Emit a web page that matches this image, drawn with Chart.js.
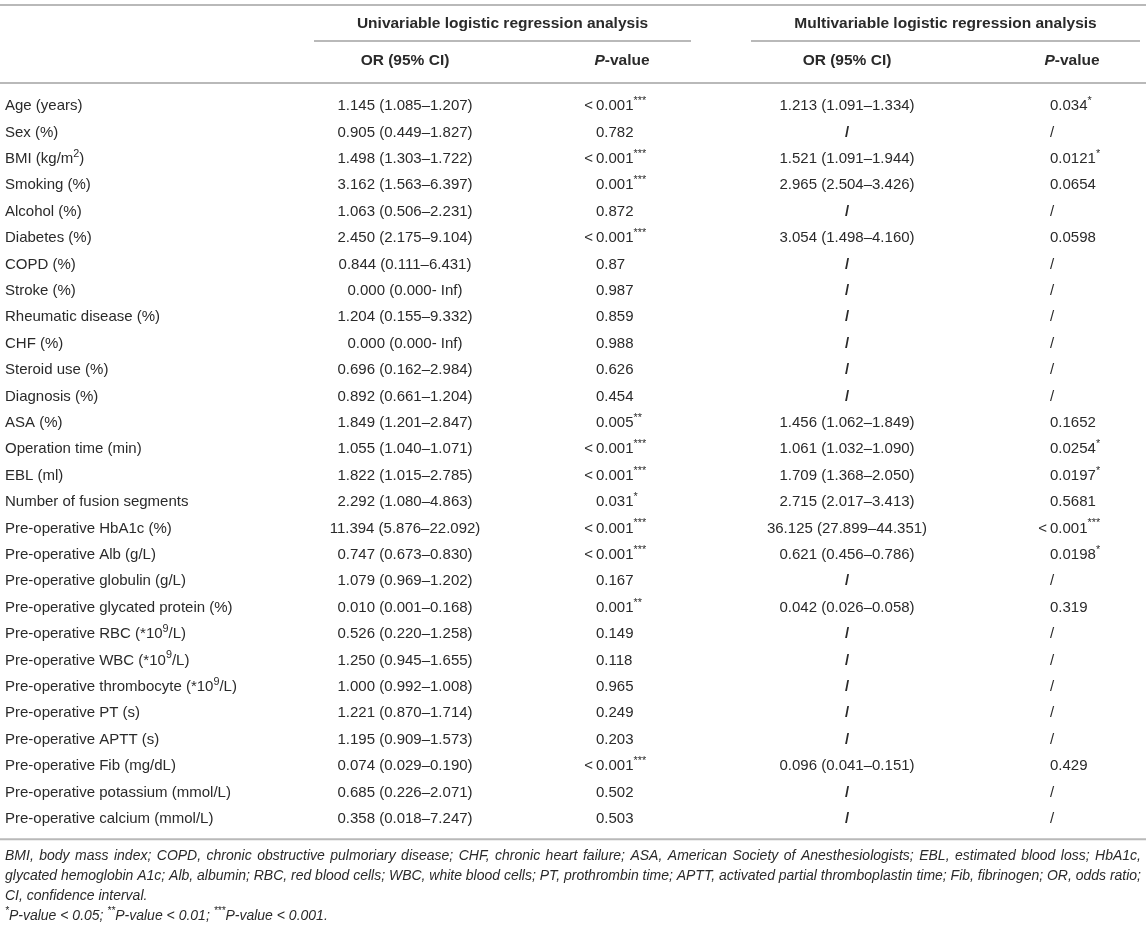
<!DOCTYPE html>
<html>
<head>
<meta charset="utf-8">
<script src="https://cdn.jsdelivr.net/npm/chart.js@4.4.1/dist/chart.umd.min.js"></script>
<style>
  html, body { margin: 0; padding: 0; background: #fff; }
  canvas { display: block; }
</style>
</head>
<body>
<canvas id="tabela" width="1146" height="928"></canvas>
<script>
// {..} = superscrito, [..] = itálico
var variables = [
  "Age (years)", "Sex (%)", "BMI (kg/m{2})", "Smoking (%)", "Alcohol (%)", "Diabetes (%)",
  "COPD (%)", "Stroke (%)", "Rheumatic disease (%)", "CHF (%)", "Steroid use (%)",
  "Diagnosis (%)", "ASA (%)", "Operation time (min)", "EBL (ml)", "Number of fusion segments",
  "Pre-operative HbA1c (%)", "Pre-operative Alb (g/L)", "Pre-operative globulin (g/L)",
  "Pre-operative glycated protein (%)", "Pre-operative RBC (*10{9}/L)", "Pre-operative WBC (*10{9}/L)",
  "Pre-operative thrombocyte (*10{9}/L)", "Pre-operative PT (s)", "Pre-operative APTT (s)",
  "Pre-operative Fib (mg/dL)", "Pre-operative potassium (mmol/L)", "Pre-operative calcium (mmol/L)"
];
var uniOR = [
  "1.145 (1.085–1.207)", "0.905 (0.449–1.827)", "1.498 (1.303–1.722)", "3.162 (1.563–6.397)",
  "1.063 (0.506–2.231)", "2.450 (2.175–9.104)", "0.844 (0.111–6.431)", "0.000 (0.000- Inf)",
  "1.204 (0.155–9.332)", "0.000 (0.000- Inf)", "0.696 (0.162–2.984)", "0.892 (0.661–1.204)",
  "1.849 (1.201–2.847)", "1.055 (1.040–1.071)", "1.822 (1.015–2.785)", "2.292 (1.080–4.863)",
  "11.394 (5.876–22.092)", "0.747 (0.673–0.830)", "1.079 (0.969–1.202)", "0.010 (0.001–0.168)",
  "0.526 (0.220–1.258)", "1.250 (0.945–1.655)", "1.000 (0.992–1.008)", "1.221 (0.870–1.714)",
  "1.195 (0.909–1.573)", "0.074 (0.029–0.190)", "0.685 (0.226–2.071)", "0.358 (0.018–7.247)"
];
var uniP = [
  "<\u20090.001{***}", "0.782", "<\u20090.001{***}", "0.001{***}", "0.872", "<\u20090.001{***}",
  "0.87", "0.987", "0.859", "0.988", "0.626", "0.454", "0.005{**}", "<\u20090.001{***}",
  "<\u20090.001{***}", "0.031{*}", "<\u20090.001{***}", "<\u20090.001{***}", "0.167", "0.001{**}",
  "0.149", "0.118", "0.965", "0.249", "0.203", "<\u20090.001{***}", "0.502", "0.503"
];
var multiOR = [
  "1.213 (1.091–1.334)", "/", "1.521 (1.091–1.944)", "2.965 (2.504–3.426)", "/",
  "3.054 (1.498–4.160)", "/", "/", "/", "/", "/", "/", "1.456 (1.062–1.849)",
  "1.061 (1.032–1.090)", "1.709 (1.368–2.050)", "2.715 (2.017–3.413)", "36.125 (27.899–44.351)",
  "0.621 (0.456–0.786)", "/", "0.042 (0.026–0.058)", "/", "/", "/", "/", "/",
  "0.096 (0.041–0.151)", "/", "/"
];
var multiP = [
  "0.034{*}", "/", "0.0121{*}", "0.0654", "/", "0.0598", "/", "/", "/", "/", "/", "/",
  "0.1652", "0.0254{*}", "0.0197{*}", "0.5681", "<\u20090.001{***}", "0.0198{*}", "/", "0.319",
  "/", "/", "/", "/", "/", "0.429", "/", "/"
];
var groupTitles = ["Univariable logistic regression analysis", "Multivariable logistic regression analysis"];
var columnTitles = ["OR (95% CI)", "[P]-value", "OR (95% CI)", "[P]-value"];
var footnotes = [
  "BMI, body mass index; COPD, chronic obstructive pulmoriary disease; CHF, chronic heart failure; ASA, American Society of Anesthesiologists; EBL, estimated blood loss; HbA1c,",
  "glycated hemoglobin A1c; Alb, albumin; RBC, red blood cells; WBC, white blood cells; PT, prothrombin time; APTT, activated partial thromboplastin time; Fib, fibrinogen; OR, odds ratio;",
  "CI, confidence interval.",
  "{*}P-value < 0.05; {**}P-value < 0.01; {***}P-value < 0.001."
];

// posições em unidades das escalas (x em px, y em linhas)
var ROW0 = 106, PITCH = 26.4;
var layout = {
  colVar: 5, colUniOR: 405, colUniP: 596, colMultiOR: 847, colMultiP: 1050,
  headUniP: 622, headMultiP: 1072, footRight: 1141,
  groupUni: [314, 691], groupMulti: [751, 1140],
  topRule: -3.83, groupTitle: -3.11, groupRule: -2.46, colTitle: -1.70, headRule: -0.87,
  bottomRule: 27.77, foot: [28.41, 29.17, 29.92, 30.68]
};
var FONT = '"Liberation Sans", Arial, Helvetica, sans-serif';
var TEXT = '#2a2a2a', RULE = '#b9b9b9';
var BODY = 15, HEAD = 15.5, FOOT = 14;

function parse(str) {
  var segs = [], re = /\{([^}]*)\}|\[([^\]]*)\]|([^{\[]+)/g, m;
  while ((m = re.exec(str))) {
    if (m[1] !== undefined) segs.push({ t: m[1], sup: true });
    else if (m[2] !== undefined) segs.push({ t: m[2], it: true });
    else segs.push({ t: m[3] });
  }
  return segs;
}

function drawRich(ctx, str, x, y, align, o) {
  var size = o.size || BODY, segs = parse(str), total = 0;
  segs.forEach(function(s) {
    var sz = s.sup ? size * 0.72 : size;
    s.font = ((o.italic || s.it) ? 'italic ' : '') + (o.bold ? 'bold ' : '') + sz + 'px ' + FONT;
    ctx.font = s.font;
    s.w = ctx.measureText(s.t).width;
    total += s.w;
  });
  var cx = align === 'center' ? x - total / 2 : (align === 'right' ? x - total : x);
  ctx.fillStyle = o.color || TEXT;
  ctx.textAlign = 'left';
  ctx.textBaseline = 'middle';
  segs.forEach(function(s) {
    ctx.font = s.font;
    ctx.fillText(s.t, cx, s.sup ? y - size * 0.33 : y);
    cx += s.w;
  });
}

// linha de nota justificada entre x0 e x1
function drawJustified(ctx, str, x0, x1, y, size) {
  ctx.font = 'italic ' + size + 'px ' + FONT;
  ctx.fillStyle = TEXT;
  ctx.textAlign = 'left';
  ctx.textBaseline = 'middle';
  var words = str.split(' '), widths = words.map(function(w) { return ctx.measureText(w).width; });
  var sum = widths.reduce(function(a, b) { return a + b; }, 0);
  var gap = (x1 - x0 - sum) / (words.length - 1), cx = x0;
  words.forEach(function(w, i) { ctx.fillText(w, cx, y); cx += widths[i] + gap; });
}

// valores P alinhados pelo "0", com "<" saliente à esquerda
function drawP(ctx, str, x, y) {
  var shift = 0;
  if (str.charAt(0) === '<') {
    ctx.font = BODY + 'px ' + FONT;
    shift = ctx.measureText('<\u2009').width;
  }
  drawRich(ctx, str, x - shift, y, 'left', {});
}

var tablePlugin = {
  id: 'tabela',
  afterDraw: function(chart) {
    var ctx = chart.ctx, X = chart.scales.x, Y = chart.scales.y;
    function px(v) { return X.getPixelForValue(v); }
    function py(v) { return Y.getPixelForValue(v); }
    function rule(x0, x1, yv) {
      ctx.save();
      ctx.strokeStyle = RULE; ctx.lineWidth = 2;
      ctx.beginPath(); ctx.moveTo(px(x0), py(yv)); ctx.lineTo(px(x1), py(yv)); ctx.stroke();
      ctx.restore();
    }
    ctx.save();
    rule(0, 1146, layout.topRule);
    rule(layout.groupUni[0], layout.groupUni[1], layout.groupRule);
    rule(layout.groupMulti[0], layout.groupMulti[1], layout.groupRule);
    rule(0, 1146, layout.headRule);
    rule(0, 1146, layout.bottomRule);

    drawRich(ctx, groupTitles[0], px((layout.groupUni[0] + layout.groupUni[1]) / 2), py(layout.groupTitle), 'center', { bold: true, size: HEAD });
    drawRich(ctx, groupTitles[1], px((layout.groupMulti[0] + layout.groupMulti[1]) / 2), py(layout.groupTitle), 'center', { bold: true, size: HEAD });
    var colX = [layout.colUniOR, layout.headUniP, layout.colMultiOR, layout.headMultiP];
    columnTitles.forEach(function(t, i) {
      drawRich(ctx, t, px(colX[i]), py(layout.colTitle), 'center', { bold: true, size: HEAD });
    });

    variables.forEach(function(v, i) {
      var y = py(i);
      drawRich(ctx, v, px(layout.colVar), y, 'left', {});
      drawRich(ctx, uniOR[i], px(layout.colUniOR), y, 'center', {});
      drawP(ctx, uniP[i], px(layout.colUniP), y);
      drawRich(ctx, multiOR[i], px(layout.colMultiOR), y, 'center', multiOR[i] === '/' ? { bold: true } : {});
      drawP(ctx, multiP[i], px(layout.colMultiP), y);
    });

    footnotes.forEach(function(f, i) {
      if (i < 2) drawJustified(ctx, f, px(layout.colVar), px(layout.footRight), py(layout.foot[i]), FOOT);
      else drawRich(ctx, f, px(layout.colVar), py(layout.foot[i]), 'left', { italic: true, size: FOOT });
    });
    ctx.restore();
  }
};

var c = document.getElementById('tabela');
var chart = new Chart(c.getContext('2d'), {
  type: 'scatter',
  data: {
    datasets: [{
      data: variables.map(function(v, i) { return { x: 0, y: i }; }),
      pointRadius: 0
    }]
  },
  options: {
    responsive: false,
    animation: false,
    events: [],
    layout: { padding: 0 },
    plugins: { legend: { display: false }, tooltip: { enabled: false } },
    scales: {
      x: { type: 'linear', min: 0, max: 1146, display: false },
      y: { type: 'linear', min: -ROW0 / PITCH, max: (928 - ROW0) / PITCH, reverse: true, display: false }
    }
  },
  plugins: [tablePlugin]
});
</script>
</body>
</html>
